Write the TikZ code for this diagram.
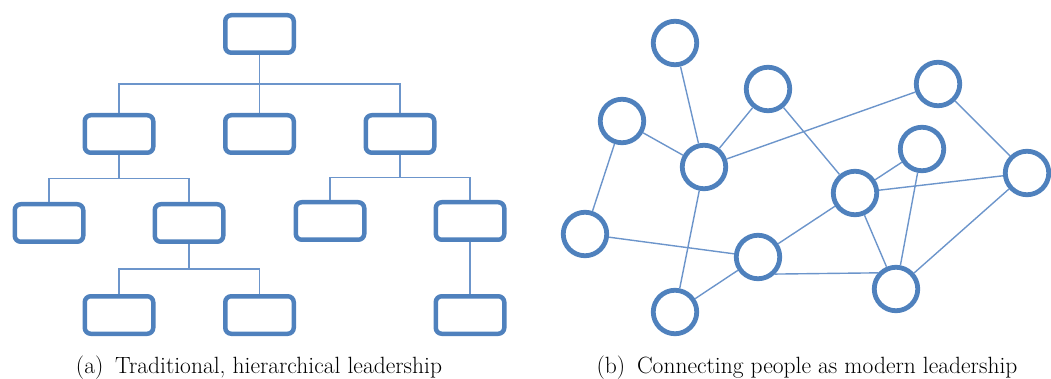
\documentclass[tikz,border=0pt]{standalone}
\usetikzlibrary{calc}

\definecolor{boxblue}{HTML}{4F81BD}
\definecolor{lineblue}{HTML}{6C95CB}

\begin{document}
\begin{tikzpicture}[
		x=1pt, y=-1pt,
		role/.style={draw=boxblue, line width=4.5pt, rectangle, rounded corners=6pt, minimum width=68.5pt, minimum height=37.5pt, inner sep=0pt},
		person/.style={draw=boxblue, line width=4.8pt, circle, minimum size=43.5pt, inner sep=0pt},
		link/.style={draw=lineblue, line width=1.4pt},
		caption/.style={font=\fontsize{23.5}{27}\selectfont, anchor=base, text=black}
		]
		\useasboundingbox (0,0) rectangle (1051,379);
		% (a) hierarchy
		\node[role] at (259.5,34) (chief) {};
		\node[role] at (119,134) (m1) {};
		\node[role] at (259.5,134) (m2) {};
		\node[role] at (400,134) (m3) {};
		\node[role] at (49,223) (t1) {};
		\node[role] at (189,223) (t2) {};
		\node[role] at (330,221) (t3) {};
		\node[role] at (470,221) (t4) {};
		\node[role] at (119,315) (w1) {};
		\node[role] at (259.5,315) (w2) {};
		\node[role] at (470,315) (w3) {};
		
		\foreach \p/\c in {chief/m1, chief/m2, chief/m3, m1/t1, m1/t2, m3/t3, m3/t4, t2/w1, t2/w2, t4/w3}
		\draw[link] (\p.south) -- ($(\p.south)!.5!(\p.south|-\c.north)$) -| (\c.north);
		
		% (b) network
		\node[person] at (675,43) (p1) {};
		\node[person] at (622,121) (p2) {};
		\node[person] at (768,89) (p3) {};
		\node[person] at (938,84) (p4) {};
		\node[person] at (704,167) (p5) {};
		\node[person] at (922,149) (p6) {};
		\node[person] at (1027,173) (p7) {};
		\node[person] at (855,193) (p8) {};
		\node[person] at (585,234) (p9) {};
		\node[person] at (758,257) (p10) {};
		\node[person] at (896,289) (p11) {};
		\node[person] at (675,312) (p12) {};
		
		\foreach \a/\b in {p1/p5, p2/p5, p3/p5, p3/p8, p5/p4, p5/p12, p4/p7, p8/p6, p8/p7, p6/p11, p8/p11, p8/p10, p2/p9, p9/p10, p10/p12, p11/p7}
		\draw[link] (\a) -- (\b);
		\draw[link] (p10.-45) -- (p11.138);
		
		% captions
		\node[caption] at (259,373) (capa) {(a)\enspace Traditional, hierarchical leadership};
		\node[caption] at (807,373) (capb) {(b)\enspace Connecting people as modern leadership};
	\end{tikzpicture}
\end{document}
